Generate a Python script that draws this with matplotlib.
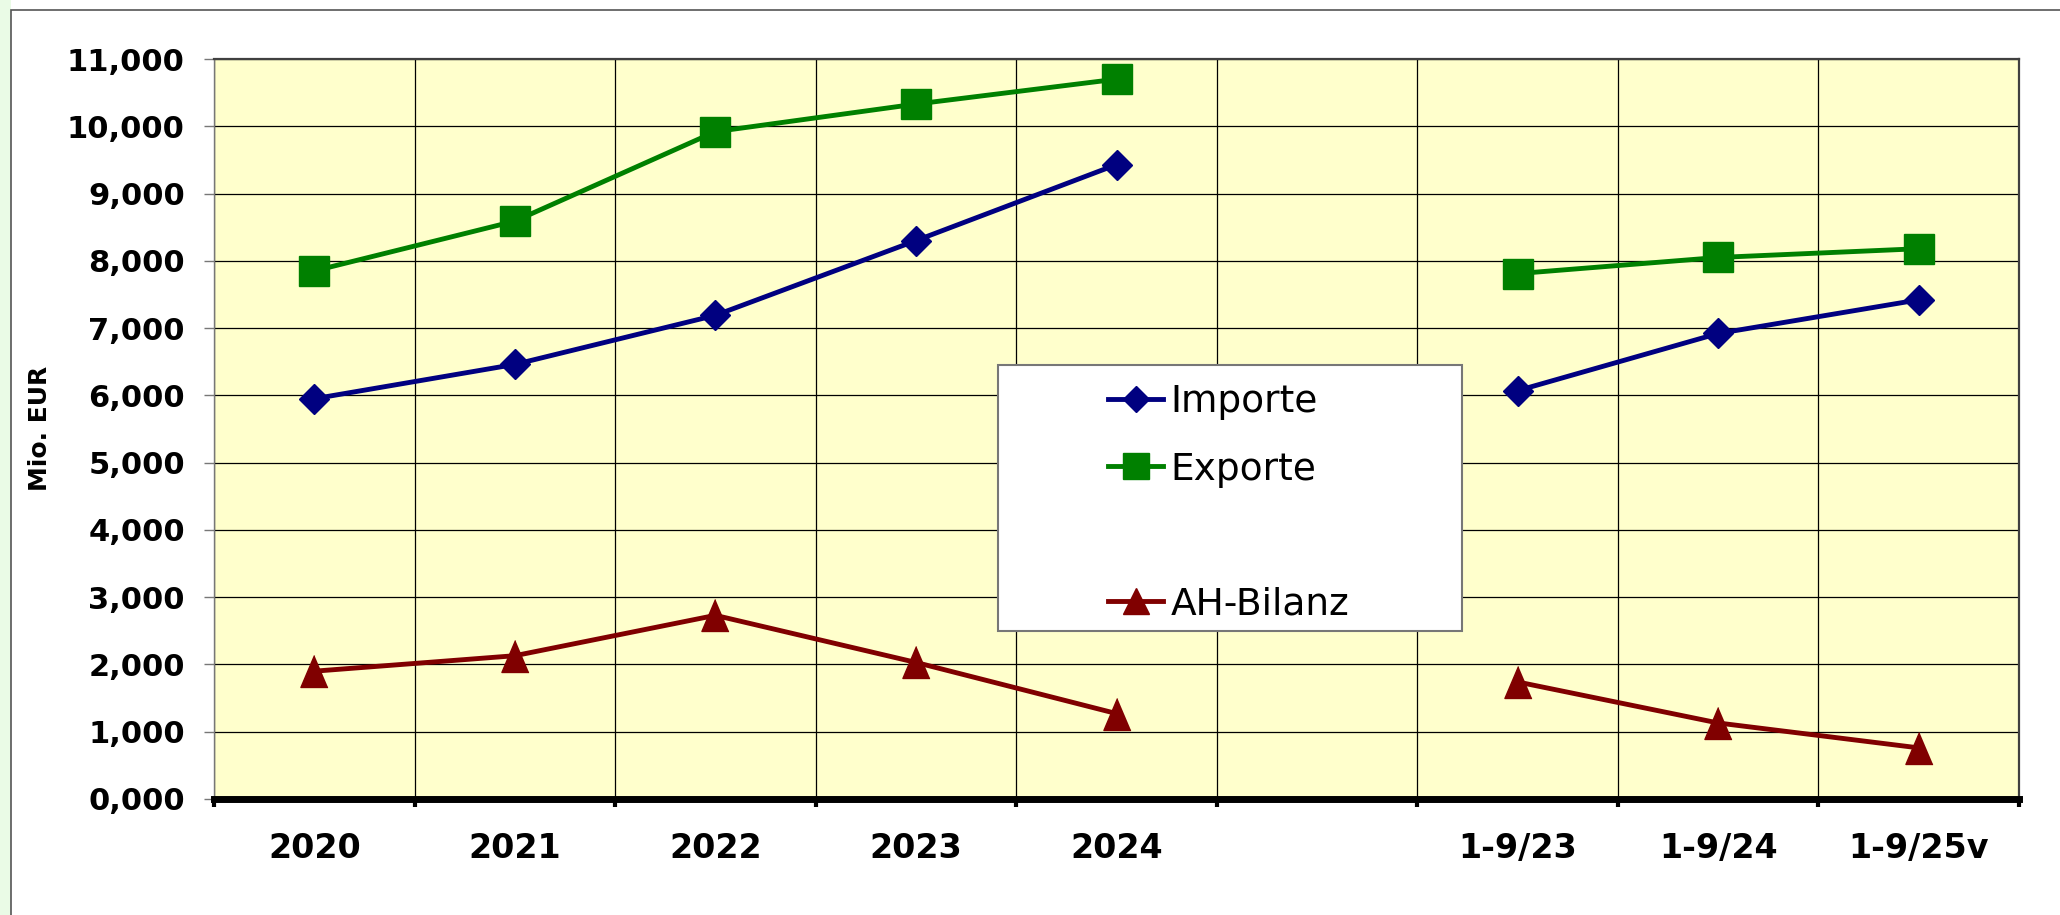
import matplotlib
matplotlib.use("Agg")
import matplotlib.pyplot as plt
import numpy as np
from matplotlib.lines import Line2D
from matplotlib.patches import Rectangle
from matplotlib.ticker import FixedLocator, FuncFormatter

# data (Mio. EUR), empty slot between 2024 and 1-9/23
categories = ['2020', '2021', '2022', '2023', '2024', '', '1-9/23', '1-9/24', '1-9/25v']
importe = [5950, 6460, 7190, 8300, 9430, np.nan, 6070, 6920, 7420]
exporte = [7850, 8590, 9920, 10330, 10700, np.nan, 7810, 8050, 8180]
bilanz = [1900, 2130, 2730, 2030, 1270, np.nan, 1740, 1130, 760]

c_imp = '#000080'
c_exp = '#008000'
c_bil = '#800000'
tri = [(0, 1), (-0.85, -1), (0.85, -1)]

fig = plt.figure(figsize=(20.6, 9.15), dpi=100)
fig.patch.set_facecolor('white')

# outer frame + light green strip on the left
fig.patches.append(Rectangle((0, 0), 11 / 2060, 1, transform=fig.transFigure,
                             facecolor='#eafbe6', edgecolor='none', zorder=-5))
fig.patches.append(Rectangle((11 / 2060, -0.01), 1.0, 1 - 10 / 915 + 0.01,
                             transform=fig.transFigure, facecolor='white',
                             edgecolor='#555555', lw=1.2, zorder=-4))

ax = fig.add_axes([214 / 2060, 116 / 915, 1805 / 2060, 740 / 915])
ax.set_facecolor('#ffffcc')

x = np.arange(len(categories))
ax.plot(x, importe, color=c_imp, lw=3.5, marker='D', ms=15, mec=c_imp, label='Importe', zorder=5)
ax.plot(x, exporte, color=c_exp, lw=3.5, marker='s', ms=21, mec=c_exp, label='Exporte', zorder=5)
ax.plot(x, bilanz, color=c_bil, lw=3.5, marker=tri, ms=23, mec=c_bil, label='AH-Bilanz', zorder=5)

ax.set_xlim(-0.5, len(categories) - 0.5)
ax.set_ylim(0, 11000)

ax.set_xticks(x)
ax.set_xticklabels(categories, fontsize=24, fontweight='bold')
ax.xaxis.set_minor_locator(FixedLocator(np.arange(len(categories) + 1) - 0.5))
ax.tick_params(axis='x', which='major', length=0, pad=24)
ax.tick_params(axis='x', which='minor', length=6, width=3, color='black', direction='out')

ax.set_yticks(np.arange(0, 11001, 1000))
ax.yaxis.set_major_formatter(FuncFormatter(lambda v, p: f"{int(v) // 1000},{int(v) % 1000:03d}"))
ax.tick_params(axis='y', length=7, width=1, color='#777777', pad=14, labelsize=22)
for t in ax.get_yticklabels():
    t.set_fontweight('bold')

ax.grid(True, axis='y', which='major', color='black', lw=0.9)
ax.grid(True, axis='x', which='minor', color='black', lw=0.9)
ax.set_axisbelow(True)

ax.spines['bottom'].set_linewidth(5)
ax.spines['bottom'].set_color('black')
ax.spines['left'].set_color('#777777')
ax.spines['left'].set_linewidth(1)
for s in ('top', 'right'):
    ax.spines[s].set_color('#404040')
    ax.spines[s].set_linewidth(1.6)

fig.text(40 / 2060, 1 - 428 / 915, 'Mio. EUR', rotation=90, ha='center', va='center',
         fontsize=18, fontweight='bold')

# legend box with an empty slot before AH-Bilanz
fig.patches.append(Rectangle((998 / 2060, 1 - 631 / 915), 464 / 2060, 266 / 915,
                             transform=fig.transFigure, facecolor='white',
                             edgecolor='#777777', lw=1.5, zorder=4))
h_imp = Line2D([], [], color=c_imp, lw=3.5, marker='D', ms=13, mec=c_imp)
h_exp = Line2D([], [], color=c_exp, lw=3.5, marker='s', ms=18.5, mec=c_exp)
h_none = Line2D([], [], color='none')
h_bil = Line2D([], [], color=c_bil, lw=3.5, marker='^', ms=19, mec=c_bil)
leg = fig.legend([h_imp, h_exp, h_none, h_bil], ['Importe', 'Exporte', ' ', 'AH-Bilanz'],
                 loc='upper left', bbox_to_anchor=(1108 / 2060, 1 - 384 / 915),
                 frameon=False, fontsize=27, borderpad=0, borderaxespad=0,
                 handlelength=1.47, handletextpad=0.19, labelspacing=0.84)
leg.set_zorder(6)

fig.savefig('out.png', dpi=100)
